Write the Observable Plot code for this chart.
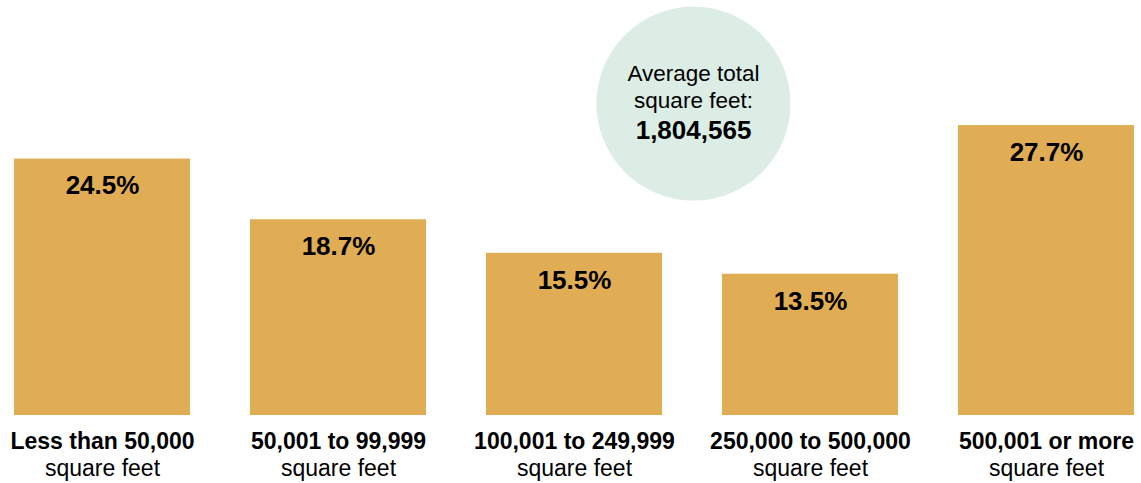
<!DOCTYPE html>
<html>
<head>
<meta charset="utf-8">
<script src="https://cdn.jsdelivr.net/npm/d3@7"></script>
<script src="https://cdn.jsdelivr.net/npm/@observablehq/plot@0.6"></script>
<style>
  html, body { margin: 0; padding: 0; background: #fff; }
  #chart svg { display: block; }
</style>
</head>
<body>
<div id="chart"></div>
<script>
const categories = ["Less than 50,000", "50,001 to 99,999", "100,001 to 249,999", "250,000 to 500,000", "500,001 or more"];
const unitLabel = "square feet";
const shares = [24.5, 18.7, 15.5, 13.5, 27.7];
const calloutLines = ["Average total", "square feet:"];
const calloutValue = "1,804,565";

const data = categories.map((c, i) => ({category: c, value: shares[i]}));
const font = "'Liberation Sans', Arial, Helvetica, sans-serif";

const chart = Plot.plot({
  width: 1141,
  height: 483,
  marginLeft: 14,
  marginRight: 7,
  marginTop: 101,
  marginBottom: 68,
  style: {fontFamily: font, background: "#fff"},
  x: {domain: categories, paddingInner: 0.2542, paddingOuter: 0, round: false, axis: null},
  y: {domain: [0, 30], axis: null},
  marks: [
    Plot.barY(data, {x: "category", y: "value", fill: "#e1ad54"}),
    Plot.text(data, {x: "category", y: "value", text: d => d.value.toFixed(1) + "%", dy: 27, fontSize: 26, fontWeight: "bold", fill: "#000"}),
    Plot.text(data, {x: "category", y: () => 0, text: "category", dy: 26, fontSize: 23, fontWeight: "bold", fill: "#000"}),
    Plot.text(data, {x: "category", y: () => 0, text: () => unitLabel, dy: 53, fontSize: 23, fill: "#000"}),
    Plot.dot([0], {x: () => categories[2], y: () => 29.8, dx: 119, r: 97, fill: "#dcede5", stroke: null}),
    Plot.text([calloutLines[0]], {x: () => categories[2], y: () => 29.8, dx: 119, dy: -30, text: d => d, fontSize: 22.5, fill: "#000"}),
    Plot.text([calloutLines[1]], {x: () => categories[2], y: () => 29.8, dx: 119, dy: -3, text: d => d, fontSize: 22.5, fill: "#000"}),
    Plot.text([calloutValue], {x: () => categories[2], y: () => 29.8, dx: 119, dy: 27, text: d => d, fontSize: 26, fontWeight: "bold", fill: "#000"})
  ]
});
document.getElementById("chart").appendChild(chart);
</script>
</body>
</html>
